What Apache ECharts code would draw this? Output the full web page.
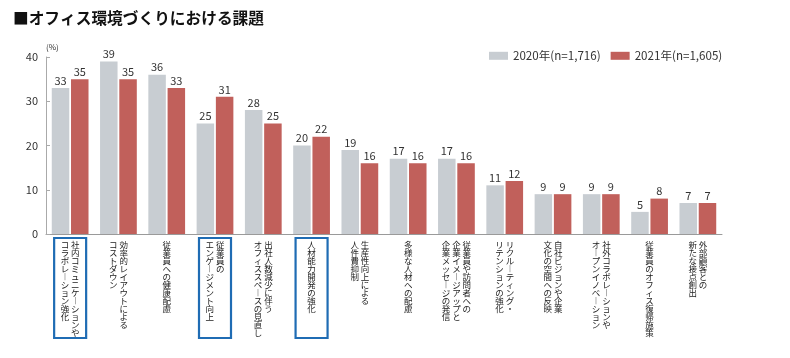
<!DOCTYPE html>
<html>
<head>
<meta charset="utf-8">
<script src="https://cdn.jsdelivr.net/npm/echarts@6/dist/echarts.min.js"></script>
<style>
html,body{margin:0;padding:0;background:#fff;}
#c{width:790px;height:358px;}
</style>
</head>
<body>
<div id="c"></div>
<script>
// Category labels: each entry is a list of vertical columns (first column is drawn rightmost)
const categories = [
  ["社内コミュニケーションや", "コラボレーション強化"],
  ["効率的レイアウトによる", "コストダウン"],
  ["従業員への健康配慮"],
  ["従業員の", "エンゲージメント向上"],
  ["出社人数減少に伴う", "オフィススペースの見直し"],
  ["人材能力開発の強化"],
  ["生産性向上による", "人件費抑制"],
  ["多様な人材への配慮"],
  ["従業員や訪問者への", "企業イメージアップと", "企業メッセージの発信"],
  ["リクルーティング・", "リテンションの強化"],
  ["自社ビジョンや企業", "文化の空間への反映"],
  ["社外コラボレーションや", "オープンイノベーション"],
  ["従業員のオフィス復帰施策"],
  ["外部顧客との", "新たな接点創出"]
];
const highlighted = [0, 3, 5];
const series2020 = [33, 39, 36, 25, 28, 20, 19, 17, 17, 11, 9, 9, 5, 7];
const series2021 = [35, 35, 33, 31, 25, 22, 16, 16, 16, 12, 9, 9, 8, 7];
const seriesNames = ["2020年(n=1,716)", "2021年(n=1,605)"];
const yTicks = [0, 10, 20, 30, 40];
const titleText = "■オフィス環境づくりにおける課題";

const FONT = '"Noto Sans CJK JP", "Noto Sans", sans-serif';
const LFS = 8.5;   // label font size
const LLH = 8;     // label line pitch

function toVertical(cols) {
  const n = Math.max(...cols.map(c => c.length));
  const rev = cols.slice().reverse().map(c => Array.from(c));
  const lines = [];
  for (let i = 0; i < n; i++) {
    lines.push(rev.map(c => {
      let ch = c[i] || '\u3000';
      if (ch === 'ー') ch = '\uFE31';
      return ch;
    }).join(' '));
  }
  return lines.join('\n');
}

const keys = categories.map((c, i) => 'c' + i);
const xData = keys.map((k, i) => {
  if (highlighted.indexOf(i) >= 0) {
    const cols = categories[i];
    const n = Math.max(...cols.map(c => c.length));
    const textW = cols.length * LFS + (cols.length - 1) * LFS * 0.224;
    const padX = (32 - textW) / 2;
    const padBottom = 100 - 3 - n * LLH;
    return {
      value: k,
      textStyle: {
        borderColor: '#1f6cb4',
        borderWidth: 2.2,
        padding: [3, padX, padBottom, padX]
      }
    };
  }
  return k;
});

const chart = echarts.init(document.getElementById('c'), null, {renderer: 'canvas'});
chart.setOption({
  animation: false,
  backgroundColor: '#fff',
  textStyle: {fontFamily: FONT},
  title: {
    text: titleText,
    left: 8,
    top: 5,
    textStyle: {fontSize: 15.7, fontWeight: 'bold', color: '#111', fontFamily: FONT}
  },
  legend: {
    left: 484,
    top: 45,
    itemWidth: 19,
    itemHeight: 8,
    itemGap: 10,
    icon: 'rect',
    textStyle: {fontSize: 11.6, color: '#333', fontFamily: FONT},
    data: seriesNames
  },
  grid: {left: 46, right: 68, top: 57, bottom: 124, containLabel: false},
  xAxis: {
    type: 'category',
    data: xData,
    axisLine: {lineStyle: {color: '#9a9a9a', width: 1}},
    axisTick: {inside: true, length: 4, lineStyle: {color: '#9a9a9a'}},
    axisLabel: {
      interval: 0,
      margin: 4,
      fontSize: LFS,
      lineHeight: LLH,
      color: '#222',
      fontFamily: FONT,
      padding: [3, 0, 0, 0],
      formatter: function (v) {
        const i = parseInt(v.slice(1), 10);
        return toVertical(categories[i]);
      }
    }
  },
  yAxis: {
    type: 'value',
    min: 0,
    max: 40,
    interval: 10,
    name: '(%)',
    nameLocation: 'end',
    nameGap: 6,
    nameTextStyle: {fontSize: 8, color: '#333', align: 'left', fontFamily: FONT},
    axisLine: {show: true, lineStyle: {color: '#aaaaaa'}},
    axisTick: {show: true, inside: true, length: 4, lineStyle: {color: '#aaaaaa'}},
    splitLine: {show: false},
    axisLabel: {
      fontSize: 11, color: '#333', margin: 8, fontFamily: FONT,
      formatter: function (v) { return yTicks.indexOf(v) >= 0 ? String(v) : ''; }
    }
  },
  series: [
    {
      name: seriesNames[0],
      type: 'bar',
      data: series2020,
      barWidth: 17.5,
      barGap: '10%',
      itemStyle: {color: '#c8cdd2'},
      label: {show: true, position: 'top', distance: 2, fontSize: 11, color: '#333', fontFamily: FONT}
    },
    {
      name: seriesNames[1],
      type: 'bar',
      data: series2021,
      barWidth: 17.5,
      barGap: '10%',
      itemStyle: {color: '#c1605b'},
      label: {show: true, position: 'top', distance: 2, fontSize: 11, color: '#333', fontFamily: FONT}
    }
  ]
});
</script>
</body>
</html>
